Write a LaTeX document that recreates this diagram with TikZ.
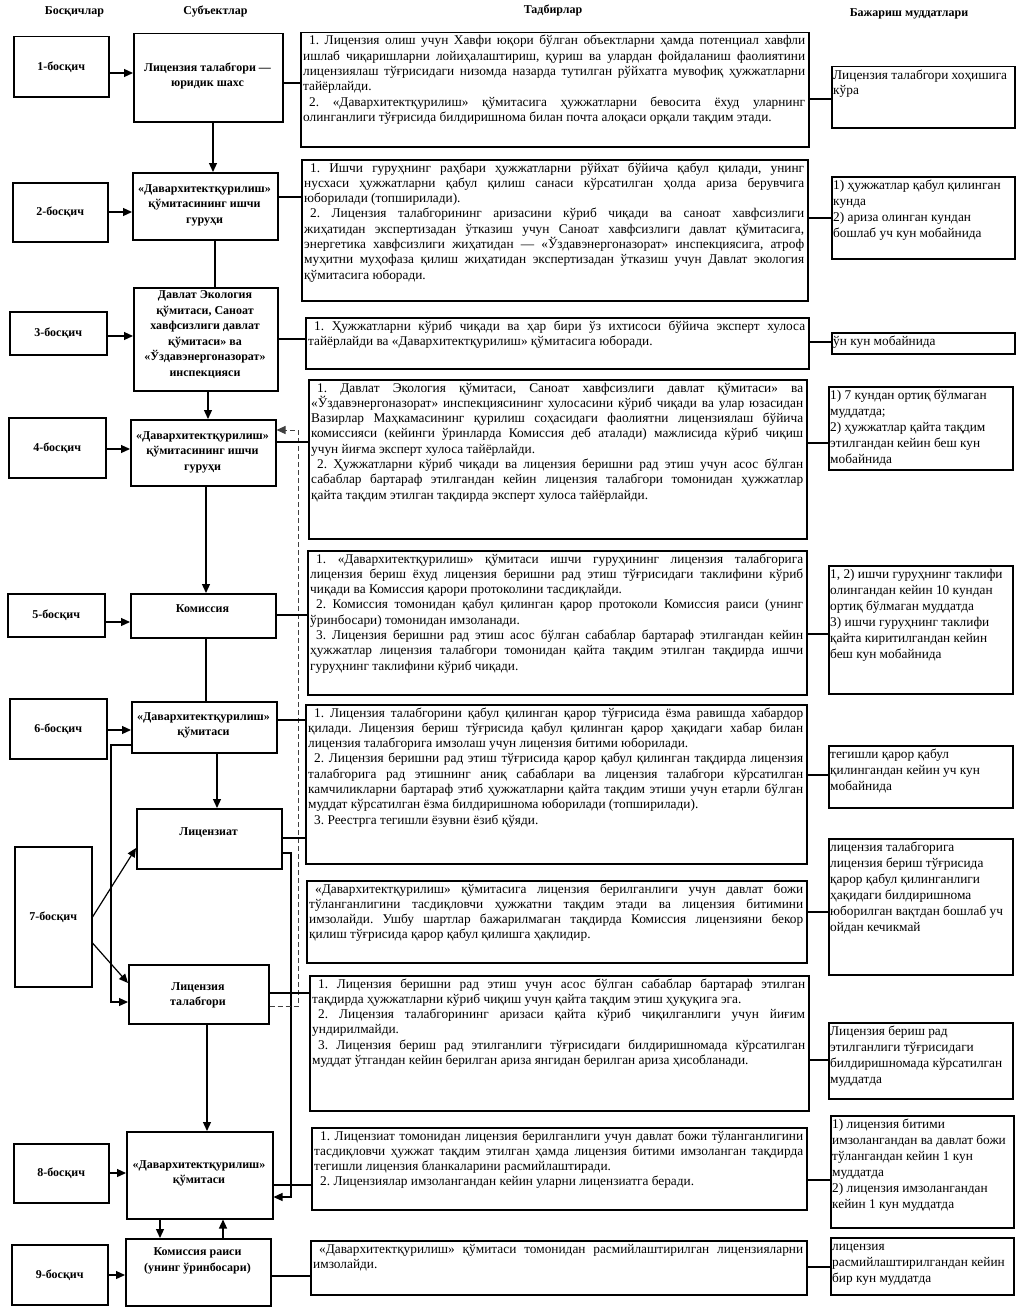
\documentclass[tikz,border=0pt]{standalone}
\usepackage{fontspec}
\setmainfont{Liberation Serif}
\usetikzlibrary{arrows.meta}
\newcommand\fsA{\fontsize{13.33pt}{15.3pt}\selectfont}
\newcommand\fsT{\fontsize{13.33pt}{16pt}\selectfont}
\newcommand\fsB{\bfseries\fontsize{12pt}{15.5pt}\selectfont}
\newcommand\jl[1]{\hbox to\hsize{#1}}
\newcommand\lastl[1]{\hbox{#1}}
\newcommand\ind{\kern6pt}
\newcommand\mkbox[5]{\node[bx, minimum width={#4-#2}, minimum height={#5-#3}] (#1) at (#2,#3) {};}
\newcommand\atext[3]{\node[anchor=base west, inner sep=0pt, font=\fsA] (#1t) at ([xshift=3pt,yshift=-13pt]#1.north west) {\vtop{\hsize=#2pt #3}};}
\newcommand\ttext[2]{\node[anchor=base west, inner sep=0pt, font=\fsT] (#1t) at ([xshift=2pt,yshift=-13pt]#1.north west) {\vtop{#2}};}
\tikzset{
  bx/.style={draw, line width=1.5pt, inner sep=0pt, anchor=north west},
  conn/.style={line width=1.2pt},
  arr/.style={conn, -{Triangle[length=9pt,width=8pt]}},
  dsh/.style={line width=1pt, black!75, dash pattern=on 5pt off 3pt, -{Triangle[length=9pt,width=8pt]}},
  lbl/.style={font=\fsB, inner sep=0pt, align=center},
}
\begin{document}
\frenchspacing
\begin{tikzpicture}[x=1pt,y=-1pt]
\fill[white] (0,0) rectangle (1019,1314);
\useasboundingbox (0,0) rectangle (1019,1314);

% headers
\node[lbl] (h1) at (74.5,12) {Босқичлар};
\node[lbl] (h2) at (215.5,12) {Субъектлар};
\node[lbl] (h3) at (553,10) {Тадбирлар};
\node[lbl] (h4) at (909,14) {Бажариш муддатлари};

% stage boxes
\mkbox{P1}{13}{36}{108}{96}
\mkbox{P2}{12}{182}{107}{241}
\mkbox{P3}{9}{311}{106}{354}
\mkbox{P4}{8}{417}{105}{477}
\mkbox{P5}{7}{593}{104}{636}
\mkbox{P6}{9}{698}{106}{758}
\mkbox{P7}{14}{846}{91}{986}
\mkbox{P8}{13}{1143}{108}{1202}
\mkbox{P9}{11}{1244}{107}{1304}
\node[lbl] (P1t) at (P1) {1-босқич};
\node[lbl] (P2t) at (P2) {2-босқич};
\node[lbl] (P3t) at (P3) {3-босқич};
\node[lbl] (P4t) at (P4) {4-босқич};
\node[lbl] (P5t) at (P5) {5-босқич};
\node[lbl] (P6t) at (P6) {6-босқич};
\node[lbl] (P7t) at (P7) {7-босқич};
\node[lbl] (P8t) at (P8) {8-босқич};
\node[lbl] (P9t) at (P9) {9-босқич};

% subject boxes
\mkbox{S1}{133}{33}{282}{121}
\mkbox{S2}{132}{172}{277}{239}
\mkbox{S3}{133}{287}{277}{390}
\mkbox{S4}{130}{419}{275}{485}
\mkbox{S5}{130}{593}{275}{637}
\mkbox{S6}{131}{701}{276}{752}
\mkbox{S7}{136}{808}{281}{868}
\mkbox{S8}{128}{964}{268}{1023}
\mkbox{S9}{126}{1131}{272}{1218}
\mkbox{S10}{125}{1238}{270}{1305}
\node[lbl] (S1t) at (207.5,75.8) {Лицензия талабгори —\\юридик шахс};
\node[lbl] (S2t) at (204.5,205) {«Давархитектқурилиш»\\қўмитасининг ишчи\\гуруҳи};
\node[lbl] (S3t) at (205,334.7) {Давлат Экология\\қўмитаси, Саноат\\хавфсизлиги давлат\\қўмитаси» ва\\«Ўздавэнергоназорат»\\инспекцияси};
\node[lbl] (S4t) at (202.5,452) {«Давархитектқурилиш»\\қўмитасининг ишчи\\гуруҳи};
\node[lbl] (S5t) at (202.5,608.3) {Комиссия};
\node[lbl] (S6t) at (203.5,725.5) {«Давархитектқурилиш»\\қўмитаси};
\node[lbl] (S7t) at (208.5,832.3) {Лицензиат};
\node[lbl] (S8t) at (198,995.5) {Лицензия\\талабгори};
\node[lbl] (S9t) at (199,1173.3) {«Давархитектқурилиш»\\қўмитаси};
\node[lbl] (S10t) at (197.5,1261) {Комиссия раиси\\(унинг ўринбосари)};

% action boxes
\mkbox{A1}{300}{32}{808}{146}
\mkbox{A2}{301}{159}{807}{300}
\mkbox{A3}{305}{317}{808}{368}
\mkbox{A4}{308}{379}{806}{538}
\mkbox{A5}{307}{550}{806}{694}
\mkbox{A6}{305}{704}{806}{863}
\mkbox{A7}{306}{880}{806}{962}
\mkbox{A8}{309}{975}{808}{1110}
\mkbox{A9}{311}{1127}{806}{1209}
\mkbox{A10}{310}{1240}{806}{1294}

\atext{A1}{502}{%
\jl{\ind 1. Лицензия олиш учун Хавфи юқори бўлган объектларни ҳамда потенциал хавфли}
\jl{ишлаб чиқаришларни лойиҳалаштириш, қуриш ва улардан фойдаланиш фаолиятини}
\jl{лицензиялаш тўғрисидаги низомда назарда тутилган рўйхатга мувофиқ ҳужжатларни}
\lastl{тайёрлайди.}
\jl{\ind 2. «Давархитектқурилиш» қўмитасига ҳужжатларни бевосита ёхуд уларнинг}
\lastl{олинганлиги тўғрисида билдиришнома билан почта алоқаси орқали тақдим этади.}}

\atext{A2}{500}{%
\jl{\ind 1. Ишчи гуруҳнинг раҳбари ҳужжатларни рўйхат бўйича қабул қилади, унинг}
\jl{нусхаси ҳужжатларни қабул қилиш санаси кўрсатилган ҳолда ариза берувчига}
\lastl{юборилади (топширилади).}
\jl{\ind 2. Лицензия талабгорининг аризасини кўриб чиқади ва саноат хавфсизлиги}
\jl{жиҳатидан экспертизадан ўтказиш учун Саноат хавфсизлиги давлат қўмитасига,}
\jl{энергетика хавфсизлиги жиҳатидан — «Ўздавэнергоназорат» инспекциясига, атроф}
\jl{муҳитни муҳофаза қилиш жиҳатидан экспертизадан ўтказиш учун Давлат экология}
\lastl{қўмитасига юборади.}}

\atext{A3}{497}{%
\jl{\ind 1. Ҳужжатларни кўриб чиқади ва ҳар бири ўз ихтисоси бўйича эксперт хулоса}
\lastl{тайёрлайди ва «Давархитектқурилиш» қўмитасига юборади.}}

\atext{A4}{492}{%
\jl{\ind 1. Давлат Экология қўмитаси, Саноат хавфсизлиги давлат қўмитаси» ва}
\jl{«Ўздавэнергоназорат» инспекциясининг хулосасини кўриб чиқади ва улар юзасидан}
\jl{Вазирлар Маҳкамасининг қурилиш соҳасидаги фаолиятни лицензиялаш бўйича}
\jl{комиссияси (кейинги ўринларда Комиссия деб аталади) мажлисида кўриб чиқиш}
\lastl{учун йиғма эксперт хулоса тайёрлайди.}
\jl{\ind 2. Ҳужжатларни кўриб чиқади ва лицензия беришни рад этиш учун асос бўлган}
\jl{сабаблар бартараф этилгандан кейин лицензия талабгори томонидан ҳужжатлар}
\lastl{қайта тақдим этилган тақдирда эксперт хулоса тайёрлайди.}}

\atext{A5}{493}{%
\jl{\ind 1. «Давархитектқурилиш» қўмитаси ишчи гуруҳининг лицензия талабгорига}
\jl{лицензия бериш ёхуд лицензия беришни рад этиш тўғрисидаги таклифини кўриб}
\lastl{чиқади ва Комиссия қарори протоколини тасдиқлайди.}
\jl{\ind 2. Комиссия томонидан қабул қилинган қарор протоколи Комиссия раиси (унинг}
\lastl{ўринбосари) томонидан имзоланади.}
\jl{\ind 3. Лицензия беришни рад этиш асос бўлган сабаблар бартараф этилгандан кейин}
\jl{ҳужжатлар лицензия талабгори томонидан қайта тақдим этилган тақдирда ишчи}
\lastl{гуруҳнинг таклифини кўриб чиқади.}}

\atext{A6}{495}{%
\jl{\ind 1. Лицензия талабгорини қабул қилинган қарор тўғрисида ёзма равишда хабардор}
\jl{қилади. Лицензия бериш тўғрисида қабул қилинган қарор ҳақидаги хабар билан}
\lastl{лицензия талабгорига имзолаш учун лицензия битими юборилади.}
\jl{\ind 2. Лицензия беришни рад этиш тўғрисида қарор қабул қилинган тақдирда лицензия}
\jl{талабгорига рад этишнинг аниқ сабаблари ва лицензия талабгори кўрсатилган}
\jl{камчиликларни бартараф этиб ҳужжатларни қайта тақдим этиши учун етарли бўлган}
\lastl{муддат кўрсатилган ёзма билдиришнома юборилади (топширилади).}
\lastl{\ind 3. Реестрга тегишли ёзувни ёзиб қўяди.}}

\atext{A7}{494}{%
\jl{\ind «Давархитектқурилиш» қўмитасига лицензия берилганлиги учун давлат божи}
\jl{тўланганлигини тасдиқловчи ҳужжатни тақдим этади ва лицензия битимини}
\jl{имзолайди. Ушбу шартлар бажарилмаган тақдирда Комиссия лицензияни бекор}
\lastl{қилиш тўғрисида қарор қабул қилишга ҳақлидир.}}

\atext{A8}{493}{%
\jl{\ind 1. Лицензия беришни рад этиш учун асос бўлган сабаблар бартараф этилган}
\lastl{тақдирда ҳужжатларни кўриб чиқиш учун қайта тақдим этиш ҳуқуқига эга.}
\jl{\ind 2. Лицензия талабгорининг аризаси қайта кўриб чиқилганлиги учун йиғим}
\lastl{ундирилмайди.}
\jl{\ind 3. Лицензия бериш рад этилганлиги тўғрисидаги билдиришномада кўрсатилган}
\lastl{муддат ўтгандан кейин берилган ариза янгидан берилган ариза ҳисобланади.}}

\atext{A9}{489}{%
\jl{\ind 1. Лицензиат томонидан лицензия берилганлиги учун давлат божи тўланганлигини}
\jl{тасдиқловчи ҳужжат тақдим этилган ҳамда лицензия битими имзоланган тақдирда}
\lastl{тегишли лицензия бланкаларини расмийлаштиради.}
\lastl{\ind 2. Лицензиялар имзолангандан кейин уларни лицензиатга беради.}}

\atext{A10}{490}{%
\jl{\ind «Давархитектқурилиш» қўмитаси томонидан расмийлаштирилган лицензияларни}
\lastl{имзолайди.}}

% term boxes
\mkbox{T1}{831}{66}{1014}{127}
\mkbox{T2}{831}{176}{1014}{258}
\mkbox{T3}{831}{332}{1014}{353}
\mkbox{T4}{828}{386}{1012}{469}
\mkbox{T5}{828}{565}{1012}{693}
\mkbox{T6}{828}{745}{1012}{807}
\mkbox{T7}{828}{838}{1012}{974}
\mkbox{T8}{828}{1022}{1012}{1098}
\mkbox{T9}{830}{1115}{1013}{1227}
\mkbox{T10}{830}{1237}{1013}{1294}

\ttext{T1}{\hbox{Лицензия талабгори хоҳишига}\hbox{кўра}}
\ttext{T2}{\hbox{1) ҳужжатлар қабул қилинган}\hbox{кунда}\hbox{2) ариза олинган кундан}\hbox{бошлаб уч кун мобайнида}}
\ttext{T3}{\hbox{ўн кун мобайнида}}
\ttext{T4}{\hbox{1) 7 кундан ортиқ бўлмаган}\hbox{муддатда;}\hbox{2) ҳужжатлар қайта тақдим}\hbox{этилгандан кейин беш кун}\hbox{мобайнида}}
\ttext{T5}{\hbox{1, 2) ишчи гуруҳнинг таклифи}\hbox{олингандан кейин 10 кундан}\hbox{ортиқ бўлмаган муддатда}\hbox{3) ишчи гуруҳнинг таклифи}\hbox{қайта киритилгандан кейин}\hbox{беш кун мобайнида}}
\ttext{T6}{\hbox{тегишли қарор қабул}\hbox{қилингандан кейин уч кун}\hbox{мобайнида}}
\ttext{T7}{\hbox{лицензия талабгорига}\hbox{лицензия бериш тўғрисида}\hbox{қарор қабул қилинганлиги}\hbox{ҳақидаги билдиришнома}\hbox{юборилган вақтдан бошлаб уч}\hbox{ойдан кечикмай}}
\ttext{T8}{\hbox{Лицензия бериш рад}\hbox{этилганлиги тўғрисидаги}\hbox{билдиришномада кўрсатилган}\hbox{муддатда}}
\ttext{T9}{\hbox{1) лицензия битими}\hbox{имзолангандан ва давлат божи}\hbox{тўлангандан кейин 1 кун}\hbox{муддатда}\hbox{2) лицензия имзолангандан}\hbox{кейин 1 кун муддатда}}
\ttext{T10}{\hbox{лицензия}\hbox{расмийлаштирилгандан кейин}\hbox{бир кун муддатда}}

% stage -> subject arrows
\draw[arr] (P1.east |- 0,73) -- (S1.west |- 0,73);
\draw[arr] (P2.east |- 0,212) -- (S2.west |- 0,212);
\draw[arr] (P3.east |- 0,336) -- (S3.west |- 0,336);
\draw[arr] (P4.east |- 0,449) -- (S4.west |- 0,449);
\draw[arr] (P5.east |- 0,622) -- (S5.west |- 0,622);
\draw[arr] (P6.east |- 0,730) -- (S6.west |- 0,730);
\draw[arr] (P7.east |- 0,917) -- (S7.west |- 0,848);
\draw[arr] (P7.east |- 0,943) -- (S8.west |- 0,983);
\draw[arr] (P8.east |- 0,1173) -- (S9.west |- 0,1173);
\draw[arr] (P9.east |- 0,1275) -- (S10.west |- 0,1275);

% vertical flow
\draw[arr] (S1.south -| 213,0) -- (S2.north -| 213,0);
\draw[conn] (S2.south -| 215,0) -- (S3.north -| 215,0);
\draw[arr] (S3.south -| 208,0) -- (S4.north -| 208,0);
\draw[arr] (S4.south -| 206,0) -- (S5.north -| 206,0);
\draw[conn] (S5.south -| 206,0) -- (S6.north -| 206,0);
\draw[arr] (S6.south -| 217,0) -- (S7.north -| 217,0);
\draw[arr] (S8.south -| 207,0) -- (S9.north -| 207,0);
\draw[arr] (S9.south -| 160,0) -- (S10.north -| 160,0);
\draw[arr] (S10.north -| 223,0) -- (S9.south -| 223,0);

% loops
\coordinate (c1) at (111,745);
\coordinate (c2) at (111,1002);
\draw[arr] (S6.west |- c1) -- (c1) -- (c2) -- (S8.west |- c2);
\coordinate (c3) at (291,853);
\coordinate (c4) at (291,1197);
\draw[arr] (S7.east |- c3) -- (c3) -- (c4) -- (S9.east |- c4);
\coordinate (c5) at (298,1006);
\coordinate (c6) at (298,430);
\draw[dsh] (S8.east |- c5) -- (c5) -- (c6) -- (S4.east |- c6);

% subject -> action
\draw[conn] (S1.east |- 0,83) -- (A1.west |- 0,83);
\draw[conn] (S2.east |- 0,197) -- (A2.west |- 0,197);
\draw[conn] (S3.east |- 0,339) -- (A3.west |- 0,339);
\draw[conn] (S4.east |- 0,442) -- (A4.west |- 0,442);
\draw[conn] (S5.east |- 0,615) -- (A5.west |- 0,615);
\draw[conn] (S6.east |- 0,720) -- (A6.west |- 0,720);
\draw[conn] (S7.east |- 0,838) -- (A6.west |- 0,838);
\draw[conn] (S8.east |- 0,993) -- (A8.west |- 0,993);
\draw[conn] (S9.east |- 0,1185) -- (A9.west |- 0,1185);
\draw[conn] (S10.east |- 0,1276) -- (A10.west |- 0,1276);

% action -> term
\draw[conn] (A1.east |- 0,99) -- (T1.west |- 0,99);
\draw[conn] (A2.east |- 0,218) -- (T2.west |- 0,218);
\draw[conn] (A3.east |- 0,342) -- (T3.west |- 0,342);
\draw[conn] (A4.east |- 0,443) -- (T4.west |- 0,443);
\draw[conn] (A5.east |- 0,634) -- (T5.west |- 0,634);
\draw[conn] (A6.east |- 0,775) -- (T6.west |- 0,775);
\draw[conn] (A7.east |- 0,912) -- (T7.west |- 0,912);
\draw[conn] (A8.east |- 0,1060) -- (T8.west |- 0,1060);
\draw[conn] (A9.east |- 0,1180) -- (T9.west |- 0,1180);
\draw[conn] (A10.east |- 0,1267) -- (T10.west |- 0,1267);
\end{tikzpicture}
\end{document}
